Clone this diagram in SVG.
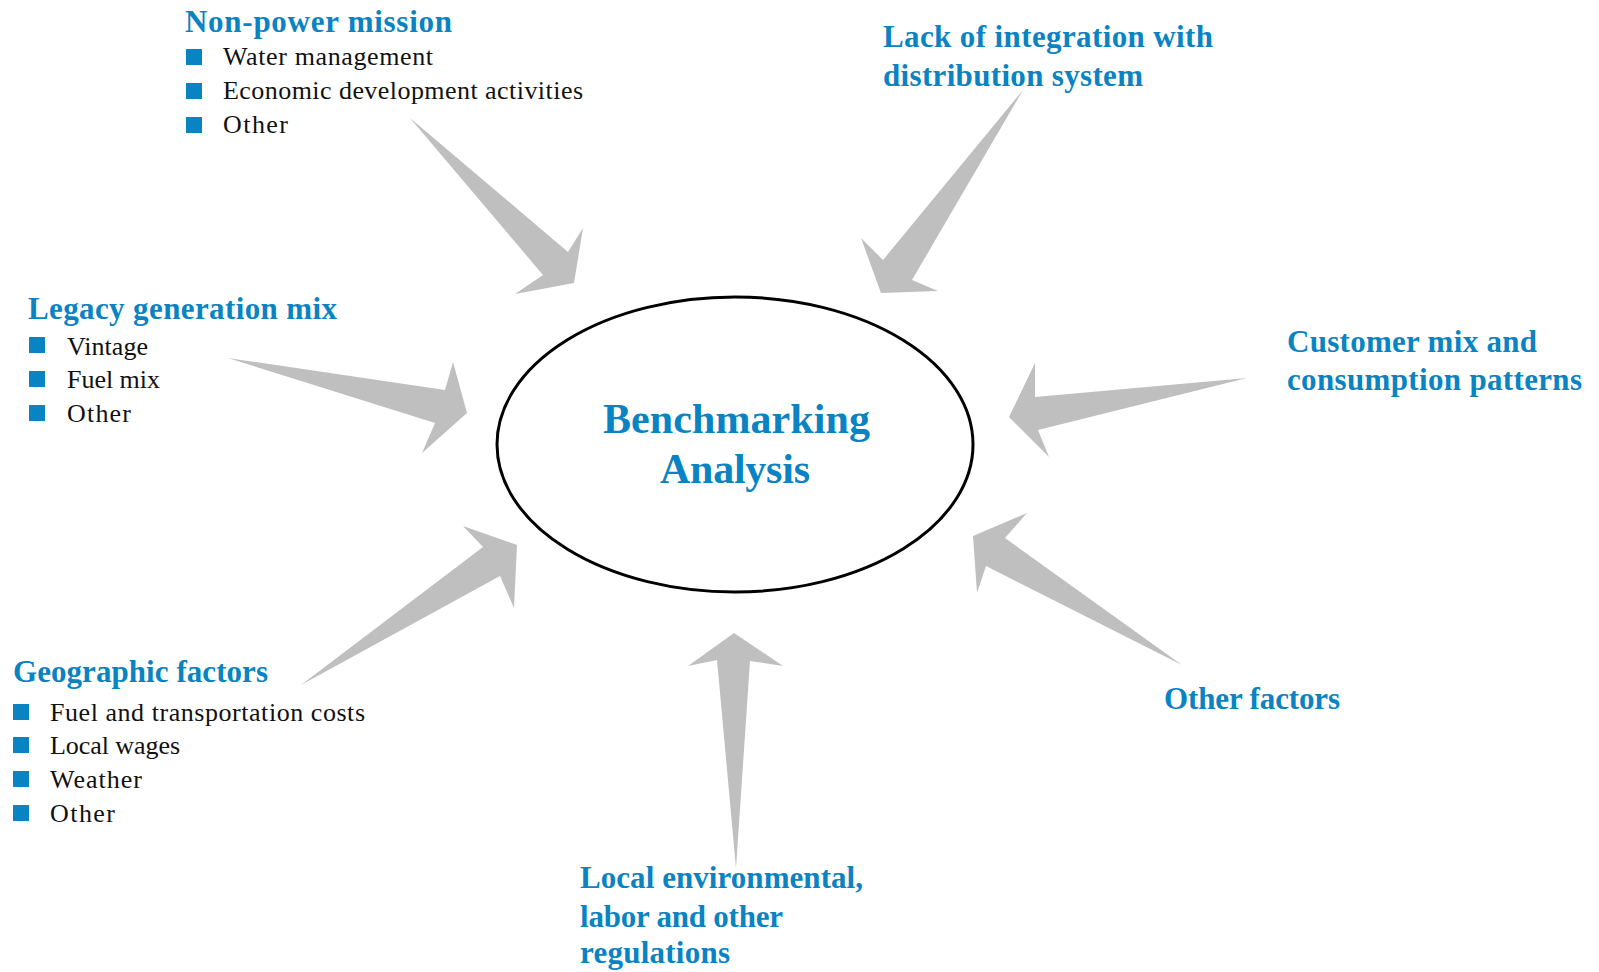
<svg xmlns="http://www.w3.org/2000/svg" width="1599" height="972" viewBox="0 0 1599 972">
  <style>
    .title { font-family: "Liberation Serif", "Times New Roman", serif; font-weight: bold; font-size: 31px; fill: #0A83C3; }
    .item { font-family: "Liberation Serif", "Times New Roman", serif; font-size: 26px; fill: #111111; }
    .center { font-family: "Liberation Serif", "Times New Roman", serif; font-weight: bold; font-size: 42px; fill: #0A83C3; text-anchor: middle; }
    .bullet { fill: #0A83C3; }
    .arrow { fill: #BFBFBF; stroke: none; }
  </style>
  <defs>
    <rect id="sq" width="16" height="16" class="bullet"/>
  </defs>
  <rect width="1599" height="972" fill="#FFFFFF"/>

  <!-- tapered arrows pointing into the central ellipse -->
  <g id="connectors">
    <polygon class="arrow" points="410,118 568,252 583,228 574,283 515,294 543,275"/>
    <polygon class="arrow" points="1023,90 912,280 938,291 881,293 861,238 883,260"/>
    <polygon class="arrow" points="228,358 445,390 453,362 467,413 422,453 435,423"/>
    <polygon class="arrow" points="1247,378 1035,397 1035,363 1009,417 1049,457 1038,430"/>
    <polygon class="arrow" points="301,685 500,576 514,608 517,545 463,526 483,547"/>
    <polygon class="arrow" points="736,868 750,661 783,666 734,633 688,666 717,660"/>
    <polygon class="arrow" points="1182,665 986,566 977,593 973,536 1027,513 1005,538"/>
  </g>

  <g id="benchmarking">
    <ellipse cx="735" cy="444.5" rx="238" ry="147.5" fill="#FFFFFF" stroke="#000000" stroke-width="3"/>
    <text class="center" x="736.5" y="433" textLength="267">Benchmarking</text>
    <text class="center" x="735" y="483" textLength="150">Analysis</text>
  </g>

  <g id="non-power-mission">
    <text class="title" x="185" y="32" textLength="267">Non-power mission</text>
    <use href="#sq" x="186" y="49"/>
    <text class="item" x="223" y="65" textLength="210">Water management</text>
    <use href="#sq" x="186" y="83"/>
    <text class="item" x="223" y="99" textLength="360">Economic development activities</text>
    <use href="#sq" x="186" y="117"/>
    <text class="item" x="223" y="133" textLength="65">Other</text>
  </g>

  <g id="distribution-integration">
    <text class="title" x="883" y="47" textLength="330">Lack of integration with</text>
    <text class="title" x="883" y="86" textLength="260">distribution system</text>
  </g>

  <g id="legacy-generation">
    <text class="title" x="28" y="319" textLength="309">Legacy generation mix</text>
    <use href="#sq" x="29" y="337"/>
    <text class="item" x="67" y="355" textLength="81">Vintage</text>
    <use href="#sq" x="29" y="371"/>
    <text class="item" x="67" y="388" textLength="93">Fuel mix</text>
    <use href="#sq" x="29" y="405"/>
    <text class="item" x="67" y="422" textLength="64">Other</text>
  </g>

  <g id="customer-mix">
    <text class="title" x="1287" y="352" textLength="250">Customer mix and</text>
    <text class="title" x="1287" y="390" textLength="295">consumption patterns</text>
  </g>

  <g id="geographic-factors">
    <text class="title" x="13" y="682" textLength="255">Geographic factors</text>
    <use href="#sq" x="13" y="704"/>
    <text class="item" x="50" y="721" textLength="315">Fuel and transportation costs</text>
    <use href="#sq" x="13" y="737"/>
    <text class="item" x="50" y="754" textLength="130">Local wages</text>
    <use href="#sq" x="13" y="771"/>
    <text class="item" x="50" y="788" textLength="92">Weather</text>
    <use href="#sq" x="13" y="805"/>
    <text class="item" x="50" y="822" textLength="65">Other</text>
  </g>

  <g id="local-regulations">
    <text class="title" x="580" y="888" textLength="283">Local environmental,</text>
    <text class="title" x="580" y="927" textLength="203">labor and other</text>
    <text class="title" x="580" y="963" textLength="150">regulations</text>
  </g>

  <g id="other-factors">
    <text class="title" x="1164" y="709" textLength="176">Other factors</text>
  </g>
</svg>
